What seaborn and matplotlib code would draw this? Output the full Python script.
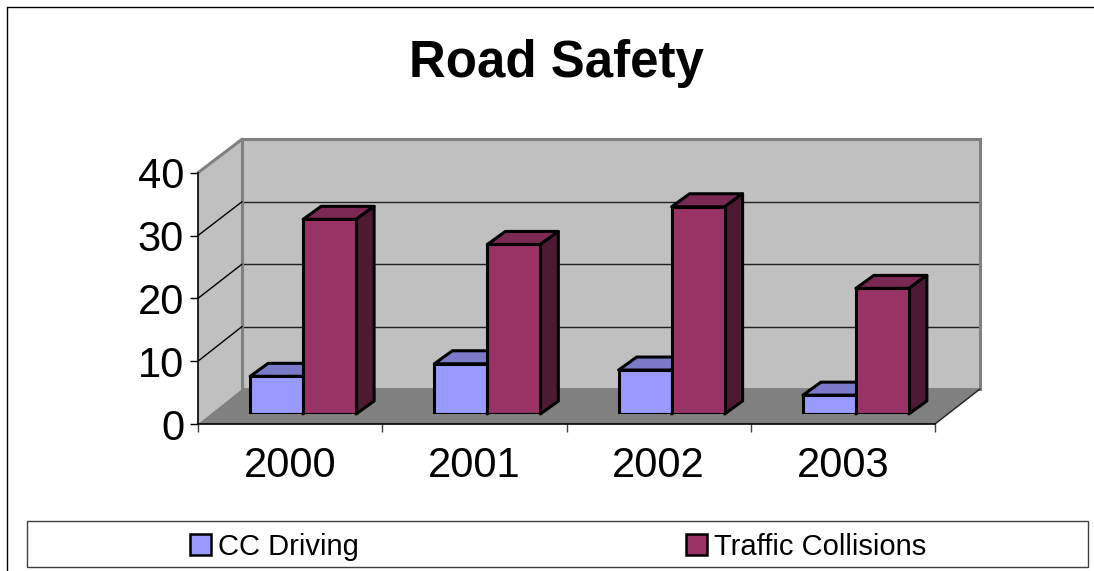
import matplotlib
matplotlib.use("Agg")
import matplotlib.pyplot as plt
import pandas as pd
import seaborn as sns
from matplotlib.lines import Line2D
from matplotlib.patches import Patch, Polygon, Rectangle
from matplotlib.transforms import IdentityTransform

years = ["2000", "2001", "2002", "2003"]
cc_driving = [6, 8, 7, 3]
collisions = [31, 27, 33, 20]
y_ticks = [0, 10, 20, 30, 40]
series_names = ["CC Driving", "Traffic Collisions"]

W, H = 1094, 571
FRONT = ["#9999FF", "#993366"]
TOP = ["#7A7AC8", "#7A2952"]
SIDE = ["#4D4D80", "#4D1A33"]
DEPTH = (18, 13)

sns.set_theme(style="white")
plt.rcParams["font.family"] = ["Liberation Sans", "DejaVu Sans"]
plt.rcParams["xtick.labelcolor"] = "black"
plt.rcParams["ytick.labelcolor"] = "black"


def px_axes(left, right, top, bottom, zorder):
    a = fig.add_axes([left / W, 1 - bottom / H, (right - left) / W, (bottom - top) / H], zorder=zorder)
    a.set_xlim(-0.5, 3.5)
    a.set_ylim(0, 40)
    return a


fig = plt.figure(figsize=(W / 100, H / 100), dpi=100, facecolor="white")

# back wall
back = px_axes(242, 980, 139.3, 389, 0)
back.set_facecolor("#C0C0C0")
back.set_xticks([])
back.set_yticks(y_ticks)
back.tick_params(left=False, labelleft=False)
back.grid(axis="y", color="#202020", lw=1)
for s in back.spines.values():
    s.set_color("#808080")
    s.set_linewidth(2.2)
back.spines["bottom"].set_visible(False)

# front plane, carries the axis lines and labels
front = px_axes(198, 935, 172.7, 424, 2)
front.patch.set_alpha(0)
for s in ["top", "right"]:
    front.spines[s].set_visible(False)
for s in ["left", "bottom"]:
    front.spines[s].set_color("black")
    front.spines[s].set_linewidth(1.2)
front.set_yticks(y_ticks)
front.set_xticks([-0.5, 0.5, 1.5, 2.5, 3.5])
front.set_xticklabels([])
front.set_xticks(range(len(years)), labels=years, minor=True)
front.tick_params(axis="y", left=True, length=6, width=1, color="black", labelsize=30, pad=4)
front.tick_params(axis="x", which="major", bottom=True, length=6, width=1, color="#404040")
front.tick_params(axis="x", which="minor", bottom=False, labelsize=30, pad=12)
for lab in front.get_xticklabels(minor=True):
    lab.set_x(lab.get_position()[0])

fig.canvas.draw()


def corner(x, y):
    # same data point on the front plane and on the back wall
    return front.transData.transform((x, y)), back.transData.transform((x, y))


f0, b0 = corner(-0.5, 0)
f40, b40 = corner(-0.5, 40)
f1, b1 = corner(3.5, 0)
none = IdentityTransform()
fig.add_artist(Polygon([f0, f40, b40, b0], closed=True, fc="#C0C0C0", ec="none", transform=none, zorder=1))
fig.add_artist(Polygon([f0, b0, b1, f1], closed=True, fc="#808080", ec="none", transform=none, zorder=1))
fig.add_artist(Line2D([f40[0], b40[0]], [f40[1], b40[1]], color="#808080", lw=2.2, transform=none, zorder=1.5))
fig.add_artist(Line2D([b0[0], b40[0]], [b0[1], b40[1]], color="#808080", lw=2.2, transform=none, zorder=1.5))
fig.add_artist(Line2D([b0[0], b1[0]], [b0[1], b1[1]], color="#808080", lw=2, transform=none, zorder=1.5))
fig.add_artist(Line2D([f1[0], b1[0]], [f1[1], b1[1]], color="#202020", lw=1, transform=none, zorder=1.5))
for t in y_ticks[1:-1]:
    p, q = corner(-0.5, t)
    fig.add_artist(Line2D([p[0], q[0]], [p[1], q[1]], color="black", lw=1, transform=none, zorder=1.5))

# bars
df = pd.DataFrame({
    "year": years * 2,
    "value": cc_driving + collisions,
    "series": [series_names[0]] * len(years) + [series_names[1]] * len(years),
})
ax = px_axes(211, 948, 162.8, 414, 3)
ax.patch.set_alpha(0)
sns.barplot(data=df, x="year", y="value", hue="series", palette=FRONT, saturation=1,
            width=0.575, gap=0, edgecolor="black", linewidth=2.2, legend=False, ax=ax, zorder=3)
ax.set_xlim(-0.5, 3.5)
ax.set_ylim(0, 40)
ax.axis("off")
fig.canvas.draw()

dx, dy = DEPTH
for i, bar in enumerate(ax.patches[: 2 * len(years)]):
    k = i // len(years)
    x0, y0 = ax.transData.transform((bar.get_x(), 0))
    x1, y1 = ax.transData.transform((bar.get_x() + bar.get_width(), bar.get_height()))
    z = 1 + k * 0.1
    ax.add_patch(Polygon([(x0, y1), (x1, y1), (x1 + dx, y1 + dy), (x0 + dx, y1 + dy)], closed=True,
                         fc=TOP[k], ec="black", lw=2.2, joinstyle="round", transform=none, clip_on=False, zorder=z))
    ax.add_patch(Polygon([(x1, y0), (x1 + dx, y0 + dy), (x1 + dx, y1 + dy), (x1, y1)], closed=True,
                         fc=SIDE[k], ec="black", lw=2.2, joinstyle="round", transform=none, clip_on=False, zorder=z))

# title, legend and outer frame
fig.text(556.5 / W, 1 - 64 / H, "Road Safety", ha="center", va="center", fontsize=36.7, fontweight="bold", color="black")

fig.add_artist(Rectangle((27 / W, 1 - 567 / H), 1061 / W, 46 / H, fc="white", ec="#404040", lw=1,
                         transform=fig.transFigure, zorder=1))
handles = [Patch(fc=c, ec="black", lw=1.8) for c in FRONT]
fig.legend(handles, series_names, ncol=2, frameon=False, loc="center", bbox_to_anchor=(558 / W, 1 - 547 / H),
           fontsize=21, handlelength=0.72, handleheight=0.72, handletextpad=0.24, columnspacing=11.2,
           labelcolor="black", borderpad=0)

fig.add_artist(Line2D([7 / W, 7 / W], [0, 1 - 7 / H], color="black", lw=1, transform=fig.transFigure))
fig.add_artist(Line2D([7 / W, 1], [1 - 7 / H, 1 - 7 / H], color="black", lw=1, transform=fig.transFigure))

fig.savefig("out.png", dpi=100)
